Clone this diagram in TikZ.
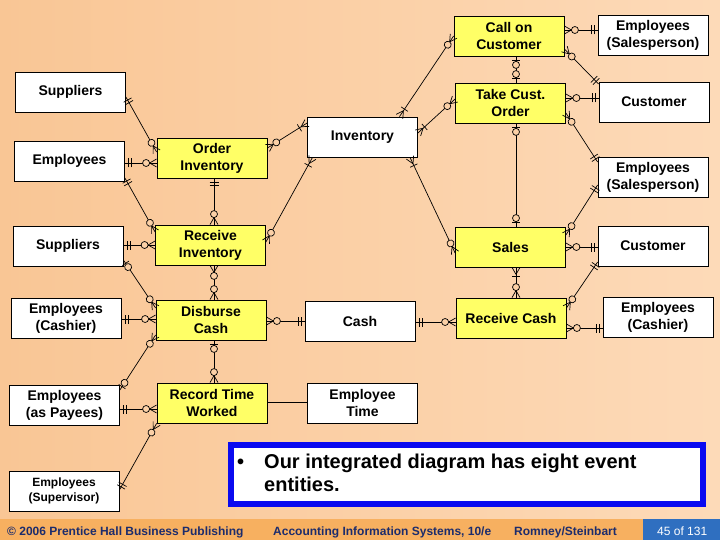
\documentclass[tikz,border=0pt]{standalone}
\usepackage{fontspec}
\setmainfont{Liberation Sans}
\usetikzlibrary{calc,decorations.markings}
\definecolor{bgL}{HTML}{F9C695}
\definecolor{bgR}{HTML}{FDDAB8}
\definecolor{bgM}{HTML}{FBD0A6}
\definecolor{evY}{HTML}{FFFF66}
\definecolor{footO}{HTML}{F7B060}
\definecolor{footB}{HTML}{2F6FC0}
\definecolor{footT}{HTML}{1C2C6C}
\definecolor{boxBlue}{HTML}{0A0AF0}
\tikzset{mk/.style={line width=0.7pt, black}}
\newcommand{\mkmanyzero}{\draw[mk] (-7pt,0) -- (0,4pt) (-7pt,0) -- (0,-4pt); \draw[mk,fill=bgM] (-10.5pt,0) circle (3.5pt);}
\newcommand{\mkmanyone}{\draw[mk] (-7pt,0) -- (0,4pt) (-7pt,0) -- (0,-4pt); \draw[mk] (-9pt,-4pt) -- (-9pt,4pt);}
\newcommand{\mkoneone}{\draw[mk] (-3.5pt,-4.5pt) -- (-3.5pt,4.5pt) (-6.5pt,-4.5pt) -- (-6.5pt,4.5pt);}
\newcommand{\mkonezero}{\draw[mk] (-4pt,-4pt) -- (-4pt,4pt); \draw[mk,fill=bgM] (-8.5pt,0) circle (3.5pt);}
\newcommand{\mknone}{}
\tikzset{
  rel/.style 2 args={line width=0.7pt, postaction={decorate, decoration={markings,
     mark=at position 0 with {\begin{scope}[xscale=-1]\csname mk#1\endcsname\end{scope}},
     mark=at position 1 with {\csname mk#2\endcsname}}}},
  ent/.style={draw, fill=white, line width=0.8pt, minimum width=110pt, minimum height=40pt,
     inner sep=1pt, align=center, font=\fontsize{14}{17}\selectfont\bfseries},
  evt/.style={ent, fill=evY},
  foot/.style={anchor=base west, inner sep=0pt, text=footT, font=\fontsize{12}{14}\selectfont\bfseries},
  note/.style={anchor=base west, inner sep=0pt, font=\fontsize{20}{23}\selectfont\bfseries},
}
\begin{document}
\begin{tikzpicture}[x=1pt,y=-1pt]
\useasboundingbox (0,0) rectangle (720,540);
\shade[left color=bgL, right color=bgR] (0,0) rectangle (720,540);
\fill[footO] (0,519) rectangle (720,540);
\fill[footB] (643,519) rectangle (720,540);

% entities and events
\node[evt] (callc) at (509,36) {Call on\\Customer};
\node[ent] (empS1) at (653,35) {Employees\\(Salesperson)};
\node[evt] (take) at (510.5,103) {Take Cust.\\Order};
\node[ent] (cust1) at (654,102) {Customer};
\node[ent] (sup1) at (70.5,92) {Suppliers};
\node[ent] (emp1) at (69.5,161) {Employees};
\node[evt] (ordinv) at (212,158) {Order\\Inventory};
\node[ent] (inv) at (362.5,137) {Inventory};
\node[ent] (empS2) at (653,177) {Employees\\(Salesperson)};
\node[ent] (sup2) at (68,246) {Suppliers};
\node[evt] (recinv) at (210.5,245) {Receive\\Inventory};
\node[evt] (sales) at (510.5,247) {Sales};
\node[ent] (cust2) at (653,246) {Customer};
\node[ent] (empC1) at (66,318) {Employees\\(Cashier)};
\node[evt] (disb) at (211,320) {Disburse\\Cash};
\node[ent] (cash) at (360,321) {Cash};
\node[evt] (reccash) at (511,318) {Receive Cash};
\node[ent] (empC2) at (658,317) {Employees\\(Cashier)};
\node[evt] (recTime) at (212,403) {Record Time\\Worked};
\node[ent] (empTime) at (362.5,403) {Employee\\Time};
\node[ent] (empPay) at (64.5,405) {Employees\\(as Payees)};
\node[ent, font=\fontsize{12}{15}\selectfont\bfseries] (empSup) at (64,491) {Employees\\(Supervisor)};

% relationships
\draw[rel={oneone}{manyzero}] ($(sup1.east)+(0,5)$) -- ($(ordinv.west)+(0,-6)$);
\draw[rel={oneone}{manyzero}] ($(emp1.east)+(0,2)$) -- ($(ordinv.west)+(0,5)$);
\draw[rel={manyzero}{manyone}] ($(ordinv.east)+(0,-10)$) -- ($(inv.west)+(0,-14)$);
\draw[rel={manyone}{manyzero}] ($(inv.north)+(37,0)$) -- (callc.west);
\draw[rel={manyone}{manyzero}] ($(inv.east)+(0,-4)$) -- ($(take.west)+(0,-4)$);
\draw[rel={manyzero}{oneone}] ($(callc.east)+(0,-6)$) -- ($(empS1.west)+(0,-5)$);
\draw[rel={manyzero}{oneone}] ($(callc.east)+(0,13)$) -- ($(cust1.west)+(0,-18)$);
\draw[rel={onezero}{onezero}] ($(callc.south)+(7,0)$) -- ($(take.north)+(5.5,0)$);
\draw[rel={manyzero}{oneone}] ($(take.east)+(0,-5)$) -- ($(cust1.west)+(0,-4)$);
\draw[rel={manyzero}{oneone}] ($(take.east)+(0,10)$) -- ($(empS2.west)+(0,-15)$);
\draw[rel={onezero}{onezero}] ($(take.south)+(5.5,0)$) -- ($(sales.north)+(5.5,0)$);
\draw[rel={manyone}{manyzero}] ($(inv.south)+(47.5,0)$) -- ($(sales.west)+(0,6)$);
\draw[rel={manyone}{manyzero}] ($(inv.south)+(-50,0)$) -- ($(recinv.east)+(0,-3)$);
\draw[rel={oneone}{manyzero}] ($(empS2.west)+(0,8)$) -- ($(sales.east)+(0,-12)$);
\draw[rel={manyzero}{oneone}] (sales.east) -- ($(cust2.west)+(0,1)$);
\draw[rel={manyone}{manyzero}] ($(sales.south)+(5.5,0)$) -- ($(reccash.north)+(5,0)$);
\draw[rel={oneone}{manyzero}] ($(cust2.west)+(0,16)$) -- ($(reccash.east)+(0,-10)$);
\draw[rel={manyzero}{oneone}] ($(reccash.east)+(0,10)$) -- ($(empC2.west)+(0,11)$);
\draw[rel={oneone}{manyzero}] ($(cash.east)+(0,1)$) -- ($(reccash.west)+(0,4)$);
\draw[rel={manyzero}{oneone}] ($(disb.east)+(0,1)$) -- (cash.west);
\draw[rel={oneone}{manyzero}] ($(sup2.east)+(0,-1)$) -- (recinv.west);
\draw[rel={oneone}{manyzero}] ($(ordinv.south)+(2,0)$) -- ($(recinv.north)+(3.5,0)$);
\draw[rel={oneone}{manyzero}] ($(emp1.east)+(0,17)$) -- ($(recinv.west)+(0,-13)$);
\draw[rel={onezero}{manyzero}] ($(sup2.east)+(0,14)$) -- ($(disb.west)+(0,-12)$);
\draw[rel={manyzero}{manyzero}] ($(recinv.south)+(3.5,0)$) -- ($(disb.north)+(3,0)$);
\draw[rel={oneone}{manyzero}] ($(empC1.east)+(0,1)$) -- ($(disb.west)+(0,-1)$);
\draw[rel={onezero}{manyzero}] ($(disb.south)+(3,0)$) -- ($(recTime.north)+(2,0)$);
\draw[rel={manyzero}{onezero}] ($(disb.west)+(0,15)$) -- ($(empPay.east)+(0,-15)$);
\draw[rel={oneone}{manyzero}] ($(empPay.east)+(0,4)$) -- ($(recTime.west)+(0,6)$);
\draw[rel={none}{none}] ($(recTime.east)+(0,-1)$) -- ($(empTime.west)+(0,-1)$);
\draw[rel={manyzero}{oneone}] (recTime.south west) -- ($(empSup.east)+(0,-1)$);

% note box
\node[draw=boxBlue, line width=6pt, fill=white, minimum width=472pt, minimum height=59pt, inner sep=0pt] (notebox) at (467,474.5) {};
\node[note] (bul) at (237,468) {•};
\node[note] (note1) at (264,468) {Our integrated diagram has eight event};
\node[note] (note2) at (264,491) {entities.};

% footer
\node[foot] (cpy) at (7,535) {© 2006 Prentice Hall Business Publishing};
\node[foot] (book) at (273,535) {Accounting Information Systems, 10/e};
\node[foot] (auth) at (514,535) {Romney/Steinbart};
\node[foot, text=white, font=\fontsize{12}{14}\selectfont] (page) at (657,535) {45 of 131};
\end{tikzpicture}
\end{document}
